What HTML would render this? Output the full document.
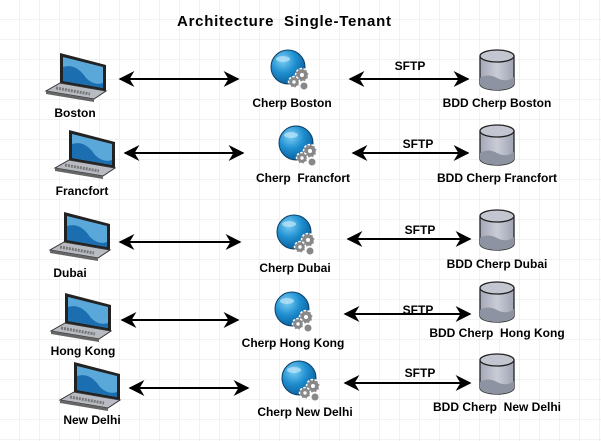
<!DOCTYPE html>
<html><head><meta charset="utf-8"><style>
html,body{margin:0;padding:0;background:#fff}
svg{display:block}
text{font-family:"Liberation Sans",Arial,sans-serif;font-weight:bold;font-size:12px;fill:#000;text-anchor:middle;white-space:pre}
</style></head><body>
<svg width="601" height="441" viewBox="0 0 601 441" xmlns="http://www.w3.org/2000/svg" xml:space="preserve">
<defs>
<pattern id="g" width="20" height="20" patternUnits="userSpaceOnUse">
<path d="M20 0V20M0 20H20" stroke="#e6e6e6" stroke-width="1" fill="none"/>
</pattern>
<marker id="a" viewBox="0 0 10 10" refX="9" refY="5" markerWidth="8" markerHeight="8" orient="auto-start-reverse">
<path d="M0 0L10 5L0 10L3 5Z" fill="#000"/>
</marker>
<radialGradient id="gl" cx="0.35" cy="0.3" r="0.75">
<stop offset="0" stop-color="#7fd0f5"/><stop offset="0.5" stop-color="#1f8fd0"/><stop offset="1" stop-color="#0a5c99"/>
</radialGradient>
<linearGradient id="cy" x1="0" x2="1">
<stop offset="0" stop-color="#a4a9b8"/><stop offset="0.5" stop-color="#c9ccd6"/><stop offset="1" stop-color="#9fa4b3"/>
</linearGradient>
<g id="lap">
<path d="M14 0L60 12L60 38L14 30Z" fill="#222"/>
<path d="M17 4L57 14L57 35L17 28Z" fill="#5aa7d9"/>
<path d="M17 14Q30 10 40 25Q48 33 57 30L57 35L17 28Z" fill="#1b6fb0"/>
<path d="M14 30L60 38L48 46L0 38Z" fill="#b8bcc2" stroke="#333" stroke-width="1"/>
<path d="M0 38L48 46L48 49L0 41Z" fill="#666"/>
<path d="M10 35L44 41" stroke="#777" stroke-width="3" stroke-dasharray="2 1"/>
</g>
<g id="glb">
<circle cx="0" cy="0" r="17" fill="url(#gl)" stroke="#0b3f66" stroke-width="1"/>
<ellipse cx="-5" cy="-8" rx="7" ry="3" fill="#bfe6f8" opacity="0.7"/>
<circle cx="14" cy="8" r="6.5" fill="#888" stroke="#fff" stroke-width="1.5" stroke-dasharray="2.5 1.5"/>
<circle cx="14" cy="8" r="2" fill="#fff"/>
<circle cx="6" cy="15" r="5.5" fill="#888" stroke="#fff" stroke-width="1.5" stroke-dasharray="2.5 1.5"/>
<circle cx="6" cy="15" r="1.7" fill="#fff"/>
<circle cx="16" cy="19" r="3.5" fill="#888"/>
</g>
<g id="cyl">
<path d="M0 6V34A17 6 0 0 0 34 34V6Z" fill="url(#cy)" stroke="#222" stroke-width="1.3"/>
<path d="M0 28Q8 23 17 28T34 27V34A17 6 0 0 1 0 34Z" fill="#8e93a1"/>
<ellipse cx="17" cy="6" rx="17" ry="6" fill="#c3c6d0" stroke="#222" stroke-width="1.3"/>
</g>
</defs>
<rect width="601" height="441" fill="url(#g)"/>
<text x="284" y="26" style="font-size:15px" textLength="214" lengthAdjust="spacing">Architecture  Single-Tenant</text>

<g stroke="#000" stroke-width="2" marker-start="url(#a)" marker-end="url(#a)">
<line x1="120" y1="79" x2="238" y2="79"/>
<line x1="350" y1="79" x2="468" y2="79"/>
<line x1="125" y1="153" x2="243" y2="153"/>
<line x1="353" y1="153" x2="468" y2="153"/>
<line x1="120" y1="242" x2="240" y2="242"/>
<line x1="348" y1="239" x2="470" y2="239"/>
<line x1="122" y1="320" x2="238" y2="320"/>
<line x1="345" y1="314" x2="470" y2="314"/>
<line x1="130" y1="388" x2="248" y2="388"/>
<line x1="345" y1="383" x2="470" y2="383"/>
</g>

<use href="#lap" x="46" y="53"/>
<use href="#lap" x="55" y="130"/>
<use href="#lap" x="50" y="212"/>
<use href="#lap" x="51" y="293"/>
<use href="#lap" x="60" y="362"/>

<use href="#glb" x="288" y="67"/>
<use href="#glb" x="296" y="143"/>
<use href="#glb" x="294" y="232"/>
<use href="#glb" x="292" y="309"/>
<use href="#glb" x="299" y="378"/>

<use href="#cyl" x="480" y="50"/>
<use href="#cyl" x="480" y="125"/>
<use href="#cyl" x="480" y="210"/>
<use href="#cyl" x="480" y="282"/>
<use href="#cyl" x="480" y="354"/>

<text x="75" y="117">Boston</text>
<text x="82" y="195">Francfort</text>
<text x="70" y="277">Dubai</text>
<text x="83" y="355">Hong Kong</text>
<text x="92" y="424">New Delhi</text>

<text x="292" y="107">Cherp Boston</text>
<text x="303" y="182">Cherp  Francfort</text>
<text x="295" y="272">Cherp Dubai</text>
<text x="293" y="347">Cherp Hong Kong</text>
<text x="305" y="416">Cherp New Delhi</text>

<text x="410" y="70">SFTP</text>
<text x="418" y="148">SFTP</text>
<text x="420" y="234">SFTP</text>
<text x="418" y="314">SFTP</text>
<text x="420" y="377">SFTP</text>

<text x="497" y="107">BDD Cherp Boston</text>
<text x="497" y="182">BDD Cherp Francfort</text>
<text x="497" y="268">BDD Cherp Dubai</text>
<text x="497" y="337">BDD Cherp  Hong Kong</text>
<text x="497" y="411">BDD Cherp  New Delhi</text>
</svg>
</body></html>
